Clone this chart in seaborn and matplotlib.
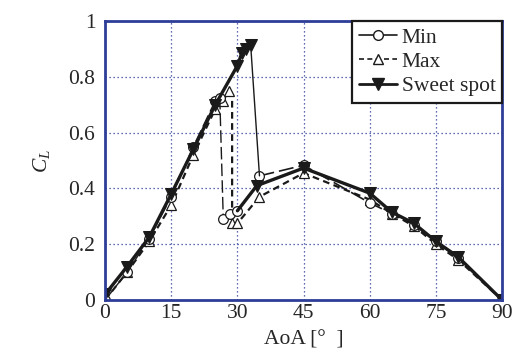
import numpy as np
import pandas as pd
import matplotlib
matplotlib.use("Agg")
import matplotlib.pyplot as plt
import seaborn as sns
from matplotlib.lines import Line2D

sns.set_theme(style="white")
plt.rcParams['font.family'] = ['Liberation Serif', 'DejaVu Serif']
plt.rcParams['mathtext.fontset'] = 'custom'
plt.rcParams['mathtext.rm'] = 'Liberation Serif'
plt.rcParams['mathtext.it'] = 'Liberation Serif:italic'

# ---- data ----
ss_pre_x = [0, 5, 10, 15, 20, 25, 30, 31, 32, 33]
ss_pre_y = [0.02, 0.12, 0.225, 0.38, 0.54, 0.70, 0.84, 0.885, 0.90, 0.915]
ss_post_x = [30, 34.4, 45, 60, 65, 70, 75, 80, 90]
ss_post_y = [0.32, 0.41, 0.473, 0.383, 0.315, 0.275, 0.21, 0.155, 0.0]
drop_x = [33, 35]
drop_y = [0.915, 0.445]

min_pre_x = [0, 5, 10, 15, 20, 25, 26, 26.8, 28.4, 30]
min_pre_y = [0.0, 0.10, 0.22, 0.37, 0.55, 0.715, 0.725, 0.29, 0.31, 0.32]
min_post_x = [35, 45, 60, 65, 70, 75, 80, 90]
min_post_y = [0.445, 0.483, 0.348, 0.31, 0.27, 0.21, 0.15, 0.0]

max_x = [0, 5, 10, 15, 20, 25, 26.8, 28, 28.8, 28.8, 30, 35, 45, 60, 65, 70, 75, 80, 90]
max_y = [0.0, 0.10, 0.21, 0.34, 0.52, 0.685, 0.715, 0.75, 0.73, 0.275, 0.275, 0.37, 0.455, 0.36, 0.31, 0.265, 0.20, 0.145, 0.0]

x_ticks = [0, 15, 30, 45, 60, 75, 90]
y_ticks = [0, 0.2, 0.4, 0.6, 0.8, 1]
y_tick_labels = ["0", "0.2", "0.4", "0.6", "0.8", "1"]
legend_labels = ["Min", "Max", "Sweet spot"]

frame_col = '#2E3D98'
fs = 15.5

fig = plt.figure(figsize=(5.15, 3.53), dpi=100)
ax = fig.add_axes([0.204, 0.150, 0.771, 0.7905])

def line(x, y, **kw):
    sns.lineplot(x=x, y=y, ax=ax, sort=False, estimator=None, color='k', **kw)

# Max (dashed, open up-triangles)
max_marks = [i for i in range(len(max_x)) if i != 8]
line(max_x, max_y, lw=1.6, linestyle=(0, (3, 2)), marker='^', markersize=7.5,
     markerfacecolor='white', markeredgecolor='k', markeredgewidth=0.9, markevery=max_marks)
# Min (thin, open circles)
line(min_pre_x, min_pre_y, lw=1.0, linestyle=(0, (9, 3)), marker='o', markersize=7,
     markerfacecolor='white', markeredgecolor='k', markeredgewidth=0.9)
line(min_post_x, min_post_y, lw=1.2, linestyle=(0, (9, 3)), marker='o', markersize=7,
     markerfacecolor='white', markeredgecolor='k', markeredgewidth=0.9)
line(drop_x, drop_y, lw=1.0, linestyle='-')
# Sweet spot (thick, filled down-triangles)
line(ss_pre_x, ss_pre_y, lw=2.4, linestyle='-', marker='v', markersize=8,
     markerfacecolor='k', markeredgecolor='k')
line(ss_post_x, ss_post_y, lw=2.4, linestyle='-', marker='v', markersize=8,
     markerfacecolor='k', markeredgecolor='k', markevery=list(range(1, len(ss_post_x))))

ax.set_xlim(0, 90)
ax.set_ylim(0, 1)
ax.set_xticks(x_ticks)
ax.set_xticklabels([str(t) for t in x_ticks], fontsize=fs)
ax.set_yticks(y_ticks)
ax.set_yticklabels(y_tick_labels, fontsize=fs)
ax.tick_params(axis='y', length=0, pad=7)
ax.tick_params(axis='x', length=0, pad=3)
ax.grid(True, color=frame_col, linestyle=(0, (1, 2.2)), lw=0.9)
for s in ax.spines.values():
    s.set_color(frame_col)
    s.set_linewidth(2.0)
    s.set_visible(True)
ax.set_xlabel("AoA [°  ]", fontsize=fs, labelpad=5)
ax.set_ylabel(r"$C_L$", fontsize=fs, labelpad=12)

handles = [
    Line2D([], [], color='k', lw=1.2, marker='o', markersize=7, markerfacecolor='white', markeredgecolor='k'),
    Line2D([], [], color='k', lw=1.2, linestyle=(0, (3, 2)), marker='^', markersize=7, markerfacecolor='white', markeredgecolor='k'),
    Line2D([], [], color='k', lw=2.0, marker='v', markersize=8, markerfacecolor='k', markeredgecolor='k'),
]
leg = ax.legend(handles, legend_labels, loc='upper right', fontsize=fs, frameon=True,
                fancybox=False, handlelength=1.8, handletextpad=0.2, borderpad=0.3,
                labelspacing=0.2, borderaxespad=0.0)
leg.get_frame().set_edgecolor('k')
leg.get_frame().set_linewidth(1.6)
leg.get_frame().set_alpha(1)

fig.savefig("out.png", dpi=100)
